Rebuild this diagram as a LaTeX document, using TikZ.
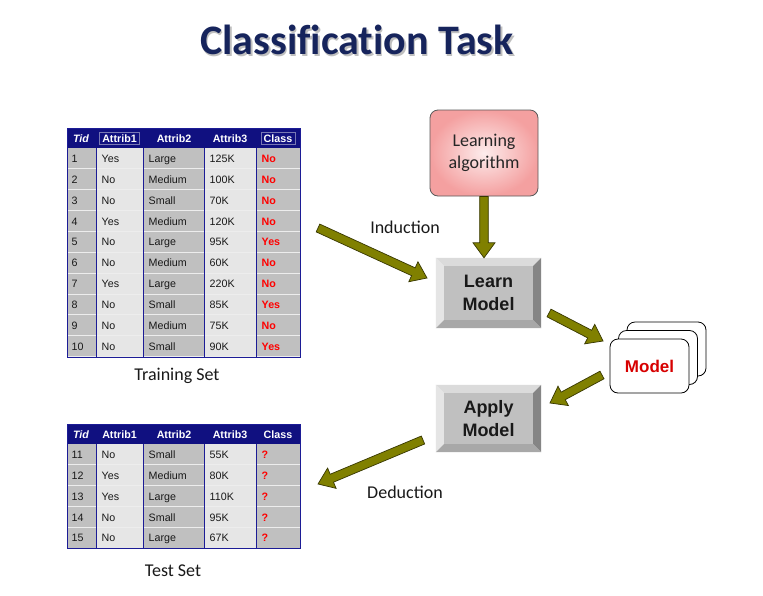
\documentclass[tikz,border=0pt]{standalone}
\usepackage{fontspec}
\setmainfont{Carlito}
\newfontfamily\titlefont[Ligatures=NoCommon]{Carlito}
\newfontfamily\arialfont{Liberation Sans}
\usetikzlibrary{calc}

\definecolor{navyhead}{RGB}{16,16,128}
\definecolor{gridblue}{RGB}{28,28,150}
\definecolor{cellgray}{RGB}{192,192,192}
\definecolor{celllight}{RGB}{230,230,230}
\definecolor{titlenavy}{RGB}{22,36,92}
\definecolor{arrowfill}{RGB}{128,128,0}
\definecolor{arrowedge}{RGB}{55,55,0}
\definecolor{classred}{RGB}{255,0,0}
\definecolor{modelred}{RGB}{215,0,0}
\definecolor{headbox}{RGB}{120,120,180}
\definecolor{algopink}{RGB}{244,160,160}
\definecolor{algolight}{RGB}{253,236,236}

\pgfdeclarelayer{bg}
\pgfsetlayers{bg,main}

\tikzset{
  cell/.style={anchor=base west, inner sep=0pt, text=black!90,
    font=\arialfont\fontsize{10.7}{12}\selectfont},
  classcell/.style={cell, text=classred, font=\arialfont\bfseries\fontsize{10.7}{12}\selectfont},
  headcell/.style={anchor=base, inner sep=1.5pt, text=white,
    font=\arialfont\bfseries\fontsize{10.7}{12}\selectfont},
  gridline/.style={draw=gridblue, line width=0.9pt},
  rowline/.style={draw=white!93!black, line width=0.6pt},
  caption/.style={font=\fontsize{18}{21}\selectfont, text=black!90},
  button/.style={minimum width=105pt, minimum height=70pt, inner sep=0pt, align=center,
    font=\arialfont\bfseries\fontsize{18}{23}\selectfont, text=black!90},
  card/.style={draw=black, line width=0.8pt, fill=white, rounded corners=8pt,
    minimum width=79pt, minimum height=54pt},
  fatarrow/.style={fill=arrowfill, draw=arrowedge, line width=0.7pt, line join=miter},
}

\def\rowh{20.9}

% A data table: #1 name prefix, #2 top of header, #3 number of rows, #4 rows
\newcommand\datatable[4]{%
  \pgfmathsetmacro\tbody{#2+20}%
  \pgfmathsetmacro\tbot{#2+20+#3*\rowh}%
  \fill[navyhead] (67,#2) rectangle (300,\tbody);
  \fill[cellgray] (67,\tbody) rectangle (96,\tbot);
  \fill[celllight] (96,\tbody) rectangle (143,\tbot);
  \fill[cellgray] (143,\tbody) rectangle (204,\tbot);
  \fill[celllight] (204,\tbody) rectangle (256.5,\tbot);
  \fill[cellgray] (256.5,\tbody) rectangle (300,\tbot);
  \foreach \k in {1,...,#3} {\draw[rowline] (67,{\tbody+\k*\rowh-0.5}) -- (300,{\tbody+\k*\rowh-0.5});}
  \foreach \x in {96,143,204,256.5} {\draw[gridline] (\x,\tbody) -- (\x,\tbot);}
  \draw[gridline] (67,#2) rectangle (300,\tbot);
  \pgfmathsetmacro\thead{#2+14}%
  \node[headcell, font=\arialfont\bfseries\itshape\fontsize{10.7}{12}\selectfont] (#1-h0) at (81,\thead) {Tid};
  \node[headcell] (#1-h1) at (119.5,\thead) {Attrib1};
  \node[headcell] (#1-h2) at (174,\thead) {Attrib2};
  \node[headcell] (#1-h3) at (230,\thead) {Attrib3};
  \node[headcell] (#1-h4) at (278,\thead) {Class};
  \foreach \a/\b/\c/\d/\e [count=\r] in {#4} {
    \pgfmathsetmacro\yy{\tbody+(\r-0.5)*\rowh+3.9}
    \node[cell] (#1-\r-id) at (71.5,\yy) {\a};
    \node[cell] (#1-\r-a) at (101.5,\yy) {\b};
    \node[cell] (#1-\r-b) at (148.5,\yy) {\c};
    \node[cell] (#1-\r-c) at (209.5,\yy) {\d};
    \node[classcell] (#1-\r-d) at (261.5,\yy) {\e};
  }
}

% A raised, bevelled button behind a named node
\newcommand\bevel[1]{%
  \begin{pgfonlayer}{bg}
    \fill[white!86!black] (#1.north west) -- (#1.north east) -- ($(#1.north east)+(-8,8)$) -- ($(#1.north west)+(8,8)$) -- cycle;
    \fill[white!90!black] (#1.north west) -- ($(#1.north west)+(8,8)$) -- ($(#1.south west)+(8,-8)$) -- (#1.south west) -- cycle;
    \fill[white!52!black] (#1.north east) -- (#1.south east) -- ($(#1.south east)+(-8,-8)$) -- ($(#1.north east)+(-8,8)$) -- cycle;
    \fill[white!66!black] (#1.south west) -- (#1.south east) -- ($(#1.south east)+(-8,-8)$) -- ($(#1.south west)+(8,-8)$) -- cycle;
    \fill[cellgray] ($(#1.north west)+(8,8)$) rectangle ($(#1.south east)+(-8,-8)$);
  \end{pgfonlayer}
}

% A thick outlined block arrow from #1 (tail) to #2 (tip)
\newcommand\blockarrow[2]{%
  \coordinate (ba-h) at ($(#2)!15pt!(#1)$);
  \draw[fatarrow] ($(#1)!4.3pt!90:(#2)$) -- ($(ba-h)!4.3pt!90:(#2)$) -- ($(ba-h)!11pt!90:(#2)$)
    -- (#2) -- ($(ba-h)!11pt!-90:(#2)$) -- ($(ba-h)!4.3pt!-90:(#2)$) -- ($(#1)!4.3pt!-90:(#2)$) -- cycle;
}

\begin{document}
\begin{tikzpicture}[x=1pt, y=-1pt]
  \begin{pgfonlayer}{bg}
    \fill[white] (0,0) rectangle (763,595);
  \end{pgfonlayer}
  \useasboundingbox (0,0) rectangle (763,595);

  % title with soft drop shadow
  \node[text=black!25, font=\titlefont\bfseries\fontsize{42}{48}\selectfont] (title-shadow) at (358.5,41.5) {Classification Task};
  \node[text=titlenavy, font=\titlefont\bfseries\fontsize{42}{48}\selectfont] (title) at (357,40) {Classification Task};

  % training data
  \datatable{tr}{128}{10}{1/Yes/Large/125K/No, 2/No/Medium/100K/No, 3/No/Small/70K/No,
    4/Yes/Medium/120K/No, 5/No/Large/95K/Yes, 6/No/Medium/60K/No, 7/Yes/Large/220K/No,
    8/No/Small/85K/Yes, 9/No/Medium/75K/No, 10/No/Small/90K/Yes}
  \draw[headbox, line width=0.6pt] ($(tr-h1.north west)+(-1,0)$) rectangle ($(tr-h1.south east)+(1,0)$);
  \draw[headbox, line width=0.6pt] ($(tr-h4.north west)+(-1,0)$) rectangle ($(tr-h4.south east)+(1,0)$);
  \node[caption] (trainlabel) at (177,376) {Training Set};

  % test data
  \datatable{ts}{424}{5}{11/No/Small/55K/?, 12/Yes/Medium/80K/?, 13/Yes/Large/110K/?,
    14/No/Small/95K/?, 15/No/Large/67K/?}
  \node[caption] (testlabel) at (173,571) {Test Set};

  % learning algorithm
  \node[draw=black!65, line width=0.8pt, rounded corners=8pt, minimum width=108pt, minimum height=86pt,
    inner color=algolight, outer color=algopink, align=center,
    font=\fontsize{18}{22}\selectfont, text=black!85] (algo) at (484,153) {Learning\\algorithm};

  % learn / apply buttons
  \node[button] (learn) at (488.5,293) {Learn\\Model};
  \bevel{learn}
  \node[button, minimum height=67pt] (apply) at (488.5,418.5) {Apply\\Model};
  \bevel{apply}

  % stack of models
  \node[card] (card3) at (666.5,349) {};
  \node[card] (card2) at (658,357.5) {};
  \node[card, text=modelred, font=\arialfont\bfseries\fontsize{17}{20}\selectfont] (model) at (649.5,366) {Model};

  % arrow end points
  \coordinate (ind-s) at (318,228);
  \coordinate (ind-t) at (427,278);
  \coordinate (lm-s) at (549,313);
  \coordinate (lm-t) at (603,341);
  \coordinate (ma-s) at (602,375);
  \coordinate (ma-t) at (550,403);
  \coordinate (ded-s) at (423,440);
  \coordinate (ded-t) at (318,484);

  \blockarrow{algo.south}{algo.south |- learn.north}
  \blockarrow{ind-s}{ind-t}
  \blockarrow{lm-s}{lm-t}
  \blockarrow{ma-s}{ma-t}
  \blockarrow{ded-s}{ded-t}

  \node[caption] (induction) at (405,227) {Induction};
  \node[caption] (deduction) at (405,492) {Deduction};
\end{tikzpicture}
\end{document}
